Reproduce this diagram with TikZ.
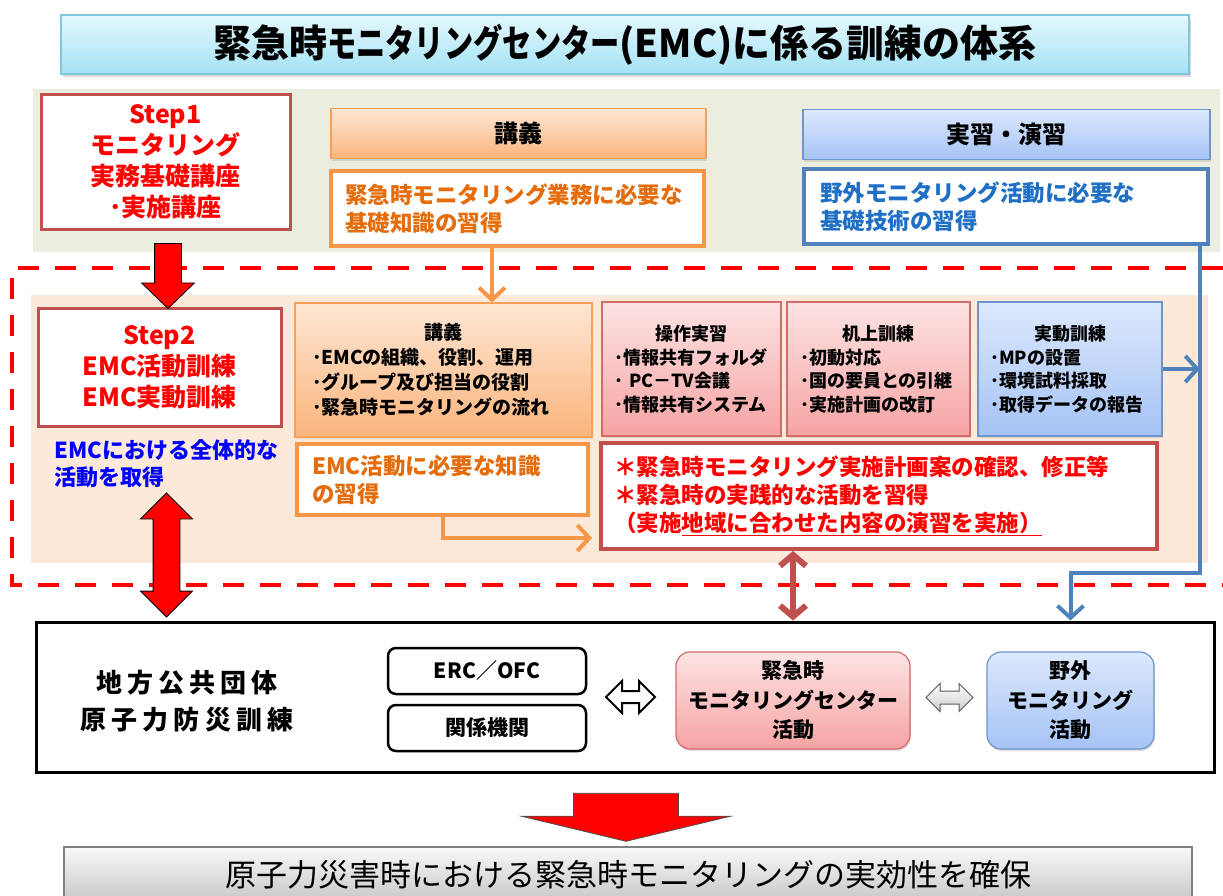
\documentclass[tikz,border=0pt]{standalone}
\usepackage{fontspec}
\setmainfont{Noto Sans CJK JP}[BoldFont={Noto Sans CJK JP Black}]
\usepackage{graphicx}
\usepackage{tikz}
\usetikzlibrary{arrows.meta}
\usetikzlibrary{calc}
\usetikzlibrary{shapes.arrows}
\usetikzlibrary{shadows}
\usetikzlibrary{positioning}

\definecolor{emcred}{HTML}{C0504D}
\definecolor{emcorange}{HTML}{F79646}
\definecolor{emcorangetext}{HTML}{E46C0A}
\definecolor{emcblue}{HTML}{4F81BD}
\definecolor{emcbluetext}{HTML}{1F6FC5}
\definecolor{emcgreen}{HTML}{EBEEDE}
\definecolor{emcpeach}{HTML}{FDE9D9}
\definecolor{orangetop}{HTML}{FEE7D4}
\definecolor{orangebot}{HTML}{FAB47C}
\definecolor{pinktop}{HTML}{FDE3E3}
\definecolor{pinkbot}{HTML}{F6A3A3}
\definecolor{pinkline}{HTML}{D26B69}
\definecolor{bluetop}{HTML}{DCE8FD}
\definecolor{bluebot}{HTML}{A5C3F5}
\definecolor{blueline}{HTML}{6E94CC}
\definecolor{cyantop}{HTML}{E4F8FD}
\definecolor{cyanbot}{HTML}{A3E2F5}
\definecolor{cyanline}{HTML}{7FC7DB}

\begin{document}
\begin{tikzpicture}[x=1pt, y=-1pt,
	stepbox/.style={draw=emcred, line width=3pt, fill=white, text=red, align=center, font=\bfseries\fontsize{25}{31}\selectfont},
	headbox/.style={line width=1.2pt, minimum height=50pt, drop shadow={opacity=0.25, shadow xshift=1pt, shadow yshift=-2pt}, font=\bfseries\fontsize{24}{28}\selectfont},
	notebox/.style={line width=4pt, fill=white, align=left, font=\bfseries\fontsize{22.5}{28}\selectfont},
	orangeshade/.style={draw=emcorange!90, top color=orangetop, bottom color=orangebot},
	pinkshade/.style={draw=pinkline, top color=pinktop, bottom color=pinkbot},
	blueshade/.style={draw=blueline, top color=bluetop, bottom color=bluebot},
	bar/.style={line width=4pt, -{Straight Barb[length=12pt, width=26pt]}}]
	\useasboundingbox (0,0) rectangle (1223,895);
	\fill[emcgreen] (33,89) rectangle (1220,252);
	\fill[emcpeach] (31,295) rectangle (1208,563);
	\draw[red, line width=4pt, dash pattern=on 21pt off 16pt] (1223,268) -- (12,268) -- (12,585) -- (1223,585);

	\node[draw=cyanline, line width=1.5pt, top color=cyantop, bottom color=cyanbot, minimum width=1128pt, minimum height=59pt,
		drop shadow={opacity=0.3, shadow xshift=1.5pt, shadow yshift=-2.5pt}, font=\bfseries\fontsize{38}{40}\selectfont]
		(title) at (625,44.5) {緊急時\scalebox{0.77}[1]{モニタリングセンター}(EMC)に係る訓練の体系};

	\begin{scope}[every node/.style={inner sep=0pt}]
		\node[stepbox, minimum width=249pt, minimum height=135pt] (s1) at (165.5,161.5) {Step1\\モニタリング\\実務基礎講座\\･実施講座};
		\node[headbox, orangeshade, minimum width=375pt] (lec) at (518.5,133.5) {講義};
		\node[notebox, draw=emcorange, text=emcorangetext, inner xsep=14pt, text width=345pt, minimum height=75pt] (lectxt) at (517.5,208.5) {緊急時モニタリング業務に必要な\\基礎知識の習得};
		\node[headbox, blueshade, minimum width=407pt] (prac) at (1006.5,134.5) {実習・演習};
		\node[notebox, draw=emcblue, text=emcbluetext, inner xsep=16pt, text width=372pt, minimum height=75pt] (practxt) at (1006,206.5) {野外モニタリング活動に必要な\\基礎技術の習得};

		\node[stepbox, minimum width=243pt, minimum height=118pt] (s2) at (159.5,367) {Step2\\EMC活動訓練\\EMC実動訓練};
		\node[text=blue, align=left, anchor=west, font=\bfseries\fontsize{22}{27}\selectfont] (s2note) at (54,463.5) {EMCにおける全体的な\\活動を取得};
	\end{scope}

	\begin{scope}[every node/.style={line width=1.2pt, align=left, inner ysep=0pt, minimum height=134pt,
	              drop shadow={opacity=0.2, shadow xshift=1pt, shadow yshift=-1.5pt}}]
		\node[orangeshade, inner xsep=17pt, text width=263pt, font=\bfseries\fontsize{19}{25}\selectfont] (lec2) at (443.5,370)
			{\hfill 講義\hfill\null\\･EMCの組織、役割、運用\\･グループ及び担当の役割\\･緊急時モニタリングの流れ};
		\node[pinkshade, inner xsep=12pt, text width=155pt, font=\bfseries\fontsize{18}{23.5}\selectfont] (ops) at (691.5,369)
			{\hfill 操作実習\hfill\null\\･情報共有フォルダ\\･ PC－TV会議\\･情報共有システム};
		\node[pinkshade, inner xsep=13pt, text width=157pt, font=\bfseries\fontsize{18}{23.5}\selectfont] (desk) at (878.5,369)
			{\hfill 机上訓練\hfill\null\\･初動対応\\･国の要員との引継\\･実施計画の改訂};
		\node[blueshade, inner xsep=12pt, text width=160pt, font=\bfseries\fontsize{18}{23.5}\selectfont] (field) at (1070,369)
			{\hfill 実動訓練\hfill\null\\･MPの設置\\･環境試料採取\\･取得データの報告};
	\end{scope}

	\begin{scope}[every node/.style={inner ysep=0pt}]
		\node[notebox, draw=emcorange, text=emcorangetext, inner xsep=15pt, text width=261pt, minimum height=71pt] (lec2txt) at (442.5,479.5) {EMC活動に必要な知識\\の習得};
		\node[notebox, draw=emcred, text=red, inner xsep=13pt, text width=530pt, minimum height=106pt] (goal) at (879,496)
			{＊緊急時モニタリング実施計画案の確認、修正等\\＊緊急時の実践的な活動を習得\\（実施\underline{地域に合わせた内容の演習を実施）}};
	\end{scope}

	\node[draw=black, line width=3pt, fill=white, minimum width=1178pt, minimum height=150pt] (local) at (625,697) {};
	\node[align=center, font=\bfseries\fontsize{26}{37}\selectfont\addfontfeature{LetterSpace=20}] (localtxt) at (187,701.5) {地方公共団体\\原子力防災訓練};
	\begin{scope}[every node/.style={draw=black, line width=2.5pt, rounded corners=8pt, minimum width=198pt, minimum height=46pt, font=\bfseries\fontsize{21}{25}\selectfont}]
		\node (erc) at (487,671) {ERC／OFC};
		\node (org) at (487,728) {関係機関};
	\end{scope}
	\begin{scope}[every node/.style={line width=1.2pt, rounded corners=14pt, minimum height=97pt, align=center,
	              drop shadow={opacity=0.25, shadow xshift=1pt, shadow yshift=-2pt}, font=\bfseries\fontsize{21}{29.5}\selectfont}]
		\node[pinkshade, minimum width=234pt] (emc) at (793,700.5) {緊急時\\モニタリングセンター\\活動};
		\node[blueshade, minimum width=167pt] (fld) at (1070.5,700.5) {野外\\モニタリング\\活動};
	\end{scope}

	\node[draw=gray, line width=1.5pt, top color=gray!5, bottom color=gray!45, minimum width=1128pt, minimum height=56pt,
		font=\fontsize{31}{31}\selectfont] (result) at (628,875) {原子力災害時における緊急時モニタリングの実効性を確保};

	\begin{scope}[every node/.style={inner ysep=0pt}]
		\node[single arrow, draw=black, fill=red, line width=0.8pt, inner xsep=13pt, single arrow head extend=13pt,
			single arrow tip angle=92, minimum height=65pt, shape border rotate=270] (a1) at (168,269.5) {};
		\node[double arrow, draw=black, fill=red, line width=0.8pt, inner xsep=13pt, double arrow head extend=12.5pt,
			double arrow tip angle=90, minimum height=124pt, shape border rotate=90] (a2) at (166.5,555) {};
		\node[double arrow, draw=black, fill=white, line width=2pt, inner xsep=0pt, inner ysep=5pt, double arrow head extend=10pt,
			minimum height=49pt] (a3) at (630.5,697) {};
		\node[double arrow, draw=gray!70!black, top color=white, bottom color=gray!40, line width=1pt, inner xsep=0pt, inner ysep=6pt,
			double arrow head extend=7.5pt, minimum height=47pt] (a4) at (949.5,697.5) {};
		\node[single arrow, draw=black!70, fill=red, line width=0.8pt, inner xsep=52pt, single arrow head extend=52pt,
			single arrow tip angle=153, minimum height=48pt, shape border rotate=270] (a5) at (626,811) {};
	\end{scope}

	\draw[bar, emcorange] ([xshift=-25.5pt]lectxt.south) -- ([xshift=-25.5pt]lectxt.south |- lec2.north);
	\draw[bar, emcorange, shorten >=7pt] (lec2txt.south) |- ([yshift=-42pt]goal.west);
	\draw[bar, emcblue] ([xshift=-10pt]practxt.south east) -- ++(0,327) -| (fld.north |- local.north);
	\draw[bar, emcblue] (field.east) -- ([xshift=-10pt]practxt.south east |- field.east);
	\draw[emcred, line width=6pt, {Straight Barb[length=11pt, width=26pt]}-{Straight Barb[length=11pt, width=26pt]}] (goal.south -| emc.north) -- (emc.north |- local.north);
\end{tikzpicture}
\end{document}
